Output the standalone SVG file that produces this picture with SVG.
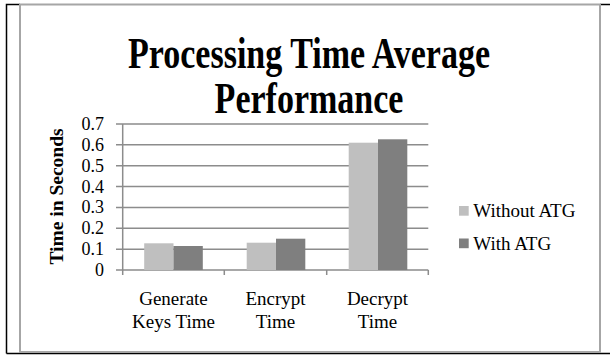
<svg xmlns="http://www.w3.org/2000/svg" width="610" height="356" viewBox="0 0 610 356">
<style>
text{font-family:"Liberation Serif","Times New Roman",serif;fill:#000}
.tick{font-size:18px;text-anchor:end}
.cat{font-size:19px;text-anchor:middle}
.leg{font-size:19px}
.ttl{font-size:34px;font-weight:bold;text-anchor:middle}
.grid{stroke:#8c8c8c;stroke-width:1.5;fill:none}
.light{fill:#bfbfbf}
.dark{fill:#7f7f7f}
</style>
<rect x="0" y="0" width="610" height="356" fill="#fff"/>
<g id="frame">
<path d="M6.5,353.5 V4.5 H20 M600,4.5 H610 M6.5,353.5 H610" stroke="#000" stroke-width="1.5" fill="none"/>
<rect x="20" y="4.5" width="580" height="347.5" fill="#fff" stroke="#a6a6a6" stroke-width="2"/>
</g>
<g id="title">
<text class="ttl" transform="translate(309,68) scale(1,1.28)">Processing Time Average</text>
<text class="ttl" transform="translate(309,113) scale(1,1.28)">Performance</text>
</g>
<g id="grid">
<path class="grid" d="M116,124 H428.3 M116,144.86 H428.3 M116,165.71 H428.3 M116,186.57 H428.3 M116,207.43 H428.3 M116,228.29 H428.3 M116,249.14 H428.3 M116,270 H428.3"/>
<path class="grid" d="M122.7,124 V275 M224.3,270 V275 M326.7,270 V275 M428.3,270 V275"/>
</g>
<g id="yticks">
<text class="tick" x="104" y="130">0.7</text>
<text class="tick" x="104" y="150.86">0.6</text>
<text class="tick" x="104" y="171.71">0.5</text>
<text class="tick" x="104" y="192.57">0.4</text>
<text class="tick" x="104" y="213.43">0.3</text>
<text class="tick" x="104" y="234.29">0.2</text>
<text class="tick" x="104" y="255.14">0.1</text>
<text class="tick" x="104" y="276">0</text>
</g>
<g id="ytitle">
<text transform="translate(63,196.5) rotate(-90)" font-size="19.5" font-weight="bold" text-anchor="middle">Time in Seconds</text>
</g>
<g id="bars">
<rect class="light" x="144.2" y="243.3" width="29.3" height="26.7"/>
<rect class="dark" x="173.5" y="246" width="29.3" height="24"/>
<rect class="light" x="246.7" y="242.7" width="29.3" height="27.3"/>
<rect class="dark" x="276" y="238.7" width="29.3" height="31.3"/>
<rect class="light" x="348.7" y="142.7" width="29.3" height="127.3"/>
<rect class="dark" x="378" y="139.3" width="29.3" height="130.7"/>
</g>
<g id="xlabels">
<text class="cat" x="173.5" y="305">Generate</text>
<text class="cat" x="173.5" y="327.5">Keys Time</text>
<text class="cat" x="275.5" y="305">Encrypt</text>
<text class="cat" x="275.5" y="327.5">Time</text>
<text class="cat" x="377.5" y="305">Decrypt</text>
<text class="cat" x="377.5" y="327.5">Time</text>
</g>
<g id="legend">
<rect class="light" x="459" y="206" width="9.7" height="9.7"/>
<text class="leg" x="473.3" y="216.7">Without ATG</text>
<rect class="dark" x="459" y="238.5" width="9.7" height="9.7"/>
<text class="leg" x="473.3" y="250">With ATG</text>
</g>
</svg>
